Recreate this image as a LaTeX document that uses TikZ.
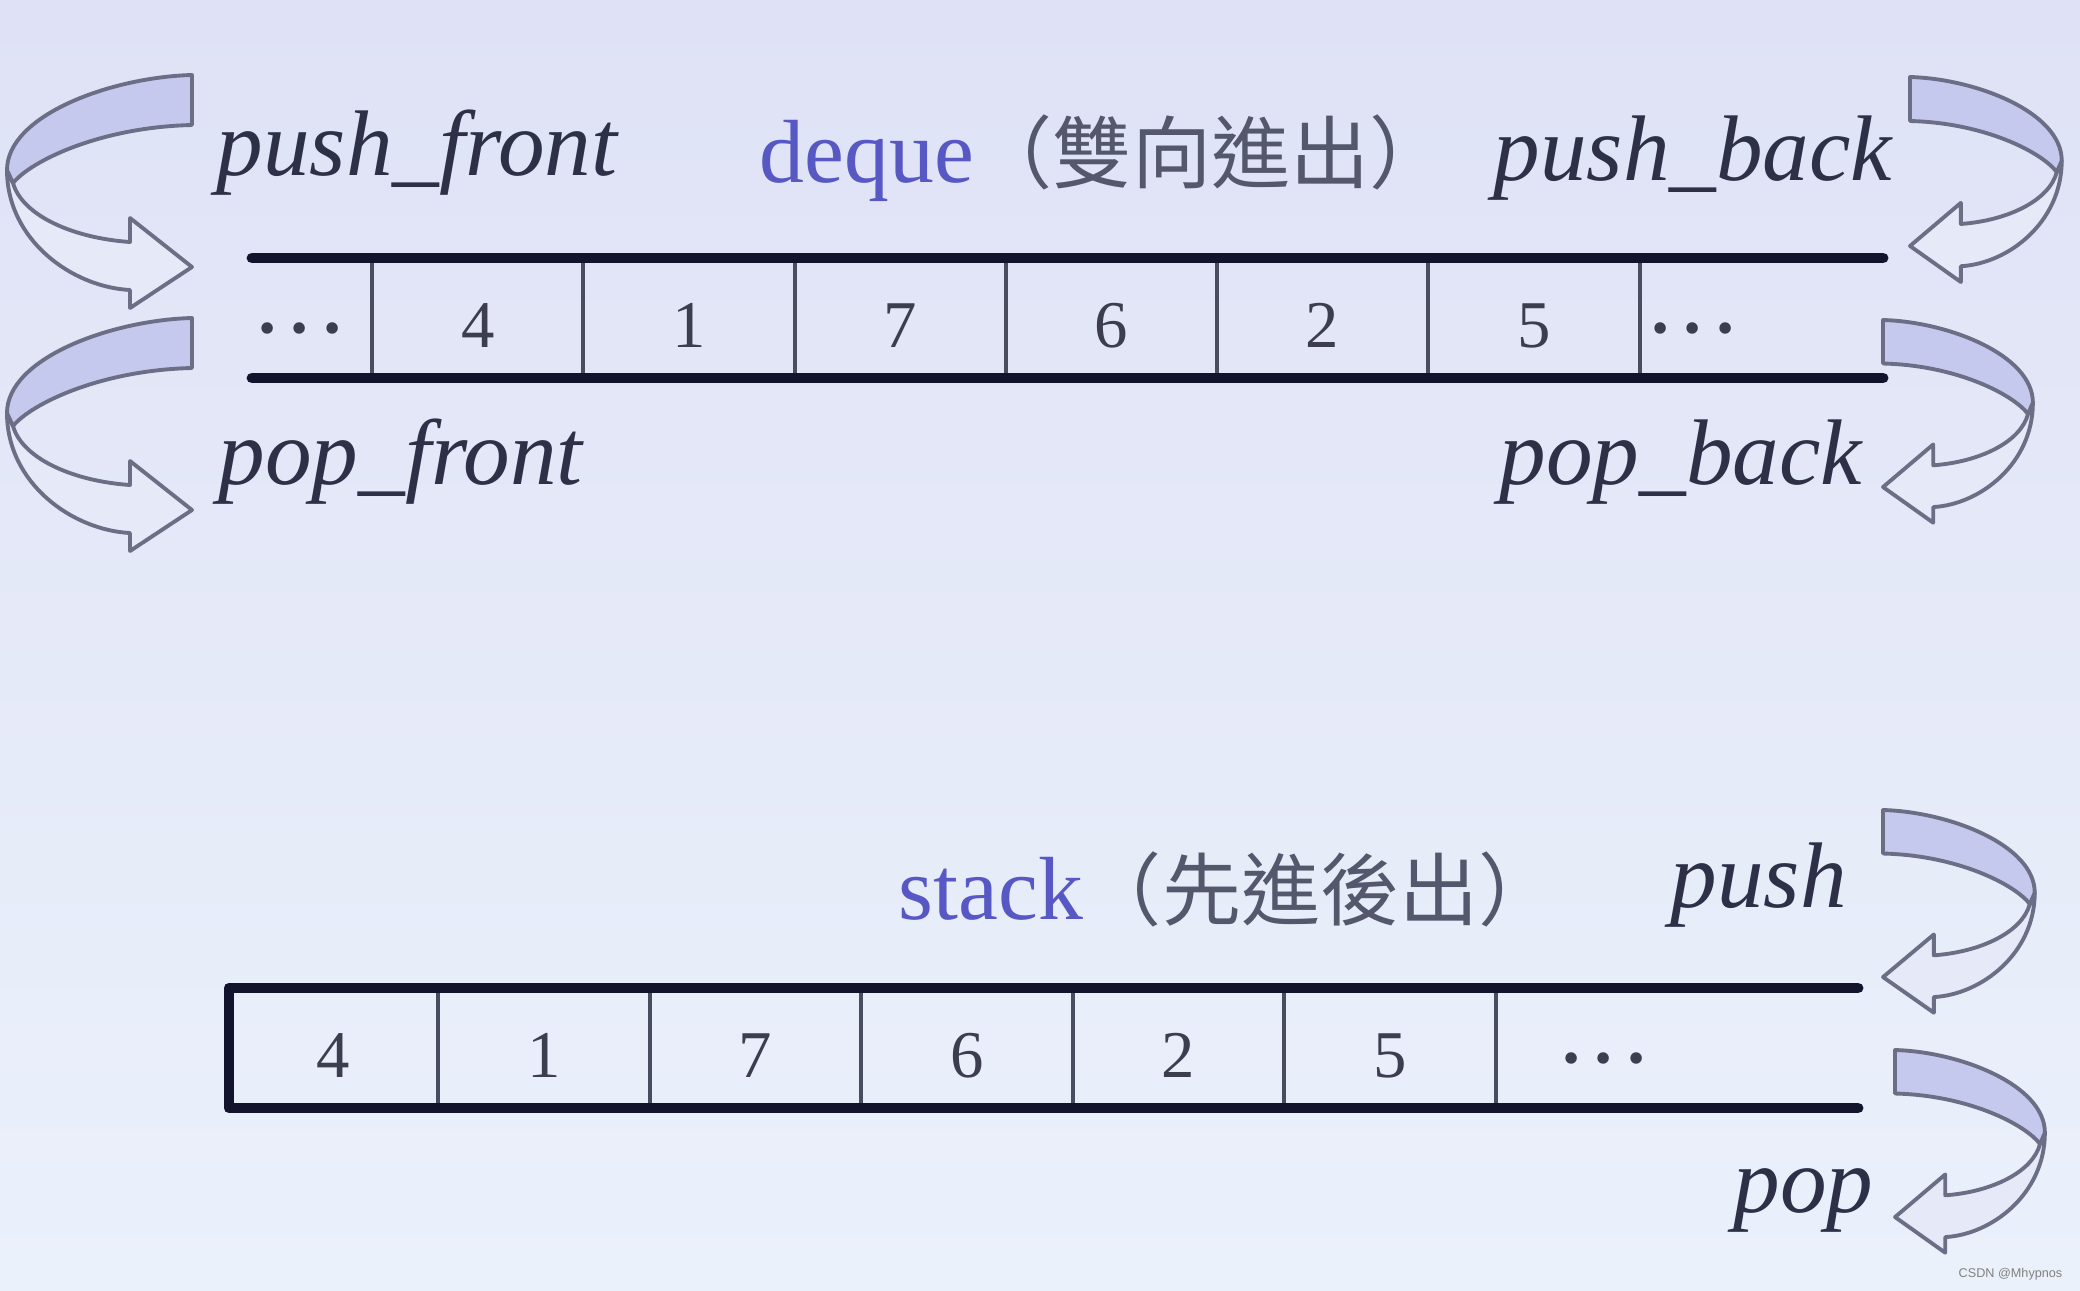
\documentclass[tikz,border=0pt]{standalone}
\usepackage{fontspec}
\setmainfont{Liberation Serif}
\newfontfamily\cjk{Noto Sans CJK TC}
\newfontfamily\wmfont{Liberation Sans}
\definecolor{bgtop}{HTML}{DFE2F6}
\definecolor{bgbot}{HTML}{EBF1FB}
\definecolor{lineC}{HTML}{12142E}
\definecolor{divC}{HTML}{4A4C60}
\definecolor{digitC}{HTML}{3C3E50}
\definecolor{labelC}{HTML}{2E3048}
\definecolor{titleC}{HTML}{5858C4}
\definecolor{cjkC}{HTML}{55586C}
\definecolor{bandC}{HTML}{C6C9EE}
\definecolor{bodyC}{HTML}{E6E9F8}
\definecolor{arrowEdge}{HTML}{6C6E86}
\tikzset{
  mainline/.style={draw=lineC, line width=3.1pt, line cap=round, line join=round},
  divider/.style={draw=divC, line width=1.1pt},
  digit/.style={anchor=base, inner sep=0pt, font=\fontsize{19}{22}\selectfont, text=digitC},
  dotsnode/.style={anchor=base, inner sep=0pt, font=\fontsize{27.5}{32}\selectfont, text=digitC},
  oplabel/.style={anchor=base west, inner sep=0pt, font=\fontsize{26.5}{30}\selectfont\itshape, text=labelC},
  titlelabel/.style={anchor=base west, inner sep=0pt, font=\fontsize{25.5}{30}\selectfont, text=titleC},
  arrowbody/.style={fill=bodyC, draw=arrowEdge, line width=1.1pt, line join=round},
  arrowband/.style={fill=bandC, draw=arrowEdge, line width=1.1pt, line join=round}
}
\newcommand{\uturnshape}{%
  \path[arrowbody] (-185,95) .. controls (-185,165) and (-120,212) .. (-62,215)
    -- (-62,233) -- (0,192) -- (-62,143) -- (-62,167)
    .. controls (-120,163) and (-170,140) .. (-179,108) -- cycle;
  \path[arrowband] (0,0) .. controls (-80,2) and (-185,40) .. (-185,95)
    -- (-179,108) .. controls (-160,85) and (-90,52) .. (0,50) -- cycle;
}
\newcommand{\cjktext}[1]{{\cjk\fontsize{22.5}{26}\selectfont\color{cjkC}#1}}
\begin{document}
\begin{tikzpicture}[x=0.01cm, y=-0.01cm]
\shade[top color=bgtop, bottom color=bgbot] (0,0) rectangle (2080,1290);
\useasboundingbox (0,0) rectangle (2080,1290);

% ---------- deque ----------
\foreach \xx in {372,583,795,1006,1217,1428,1640}
  \draw[divider] (\xx,258) -- (\xx,378);
\draw[mainline] (252,258) -- (1883,258);
\draw[mainline] (252,378) -- (1883,378);

\node[dotsnode] (dqdl) at (300,360) {···};
\node[digit] (dq4) at (478,347) {4};
\node[digit] (dq1) at (689,347) {1};
\node[digit] (dq7) at (900,347) {7};
\node[digit] (dq6) at (1111,347) {6};
\node[digit] (dq2) at (1322,347) {2};
\node[digit] (dq5) at (1534,347) {5};
\node[dotsnode] (dqdr) at (1693,360) {···};

\node[oplabel] (pushfront) at (216,175) {push\_front};
\node[oplabel] (popfront) at (218,484) {pop\_front};
\node[oplabel] (pushback) at (1493,180) {push\_back};
\node[oplabel] (popback) at (1499,484) {pop\_back};
\node[titlelabel] (dequetitle) at (759,182) {deque\cjktext{（雙向進出）}};

\begin{scope}[shift={(192,75)}]
  \uturnshape
\end{scope}
\begin{scope}[shift={(192,318)}]
  \uturnshape
\end{scope}
\begin{scope}[shift={(1910,77)}, xscale=-0.82, yscale=0.88]
  \uturnshape
\end{scope}
\begin{scope}[shift={(1883,320)}, xscale=-0.81, yscale=0.87]
  \uturnshape
\end{scope}

% ---------- stack ----------
\foreach \xx in {438,650,861,1073,1284,1496}
  \draw[divider] (\xx,988) -- (\xx,1108);
\draw[mainline] (1858,988) -- (229,988) -- (229,1108) -- (1858,1108);

\node[digit] (st4) at (333,1077) {4};
\node[digit] (st1) at (544,1077) {1};
\node[digit] (st7) at (755,1077) {7};
\node[digit] (st6) at (967,1077) {6};
\node[digit] (st2) at (1178,1077) {2};
\node[digit] (st5) at (1390,1077) {5};
\node[dotsnode] (std) at (1604,1090) {···};

\node[titlelabel] (stacktitle) at (898,919) {stack\cjktext{（先進後出）}};
\node[oplabel] (push) at (1670,907) {push};
\node[oplabel] (pop) at (1733,1212) {pop};

\begin{scope}[shift={(1883,810)}, xscale=-0.82, yscale=0.87]
  \uturnshape
\end{scope}
\begin{scope}[shift={(1895,1050)}, xscale=-0.81, yscale=0.87]
  \uturnshape
\end{scope}

\node[anchor=base east, inner sep=0pt, font=\wmfont\fontsize{3.6}{4}\selectfont, text=gray] (wm) at (2063,1277) {CSDN @Mhypnos};
\end{tikzpicture}
\end{document}
